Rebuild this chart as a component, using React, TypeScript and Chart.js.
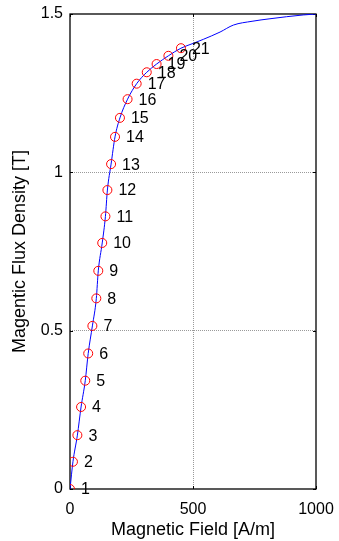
import { useEffect, useRef } from "react";
import { Chart, registerables } from "chart.js";

Chart.register(...registerables);

// Measured points on the B-H curve (field strength H in A/m, flux density B in T)
const fieldH = [0, 12, 30, 45, 62, 74, 91, 107, 115, 131, 144, 152, 167, 183, 203, 234, 271, 312, 352, 400, 451];
const fluxB = [0, 0.086, 0.17, 0.259, 0.342, 0.428, 0.515, 0.602, 0.689, 0.777, 0.861, 0.944, 1.026, 1.112, 1.172, 1.231, 1.28, 1.316, 1.342, 1.368, 1.392];
const pointLabels = ["1", "2", "3", "4", "5", "6", "7", "8", "9", "10", "11", "12", "13", "14", "15", "16", "17", "18", "19", "20", "21"];

// Saturation part of the curve beyond the last measured point
const tailH = [500, 542, 610, 664, 740, 813, 948, 1000];
const tailB = [1.407, 1.42, 1.443, 1.465, 1.477, 1.485, 1.497, 1.5];

const xTicks = [0, 500, 1000];
const yTicks = [0, 0.5, 1, 1.5];

const FONT = "'Liberation Sans', Arial, Helvetica, sans-serif";

// Box frame, inward tick marks and point numbers
const axesBox = {
  id: "axesBox",
  beforeDatasetsDraw(chart: any) {
    const { ctx, chartArea, scales } = chart;
    const { left, right, top, bottom } = chartArea;
    const x = scales.x;
    const y = scales.y;
    ctx.save();
    ctx.strokeStyle = "#000";
    ctx.lineWidth = 1.3;
    ctx.strokeRect(left, top, right - left, bottom - top);
    ctx.lineWidth = 1;
    ctx.beginPath();
    const tl = 3;
    xTicks.forEach((v) => {
      const px = Math.round(x.getPixelForValue(v)) + 0.5;
      ctx.moveTo(px, bottom);
      ctx.lineTo(px, bottom - tl);
      ctx.moveTo(px, top);
      ctx.lineTo(px, top + tl);
    });
    yTicks.forEach((v) => {
      const py = Math.round(y.getPixelForValue(v)) + 0.5;
      ctx.moveTo(left, py);
      ctx.lineTo(left + tl, py);
      ctx.moveTo(right, py);
      ctx.lineTo(right - tl, py);
    });
    ctx.stroke();
    ctx.restore();
  },
  afterDatasetsDraw(chart: any) {
    const { ctx, scales } = chart;
    const x = scales.x;
    const y = scales.y;
    ctx.save();
    ctx.fillStyle = "#000";
    ctx.font = `16px ${FONT}`;
    ctx.textAlign = "left";
    ctx.textBaseline = "middle";
    pointLabels.forEach((lbl, i) => {
      const px = x.getPixelForValue(fieldH[i]);
      const py = y.getPixelForValue(fluxB[i]);
      ctx.fillText(lbl, px + 11, py + 1);
    });
    ctx.restore();
  },
};

export default function App() {
  const canvasRef = useRef<HTMLCanvasElement | null>(null);

  useEffect(() => {
    const canvas = canvasRef.current;
    if (!canvas) return;

    const curve = fieldH
      .map((h, i) => ({ x: h, y: fluxB[i] }))
      .concat(tailH.map((h, i) => ({ x: h, y: tailB[i] })));
    const markers = fieldH.map((h, i) => ({ x: h, y: fluxB[i] }));

    const gridColor = (c: any) => {
      const v = c.tick ? c.tick.value : null;
      const scale = c.scale;
      if (v === scale.min || v === scale.max) return "rgba(0,0,0,0)";
      return "#9a9a9a";
    };

    const chart = new Chart(canvas, {
      type: "scatter",
      data: {
        datasets: [
          {
            label: "B-H curve",
            data: curve,
            showLine: true,
            borderColor: "#0000ff",
            borderWidth: 1,
            pointRadius: 0,
            cubicInterpolationMode: "monotone",
            order: 2,
          },
          {
            label: "points",
            data: markers,
            showLine: false,
            pointStyle: "circle",
            pointRadius: 4.5,
            pointBorderColor: "#ff0000",
            pointBackgroundColor: "rgba(0,0,0,0)",
            pointBorderWidth: 1,
            order: 1,
          },
        ],
      },
      options: {
        responsive: false,
        animation: false,
        events: [],
        layout: { padding: { top: 14, right: 23, bottom: 0, left: 0 } },
        plugins: {
          legend: { display: false },
          tooltip: { enabled: false },
        },
        scales: {
          x: {
            type: "linear",
            min: 0,
            max: 1000,
            afterBuildTicks: (s: any) => {
              s.ticks = xTicks.map((v) => ({ value: v }));
            },
            afterFit: (s: any) => {
              s.height = 52;
              s.paddingLeft = 0;
              s.paddingRight = 0;
            },
            ticks: {
              callback: (v: any) => String(v),
              color: "#000",
              font: { family: FONT, size: 16 },
              padding: 11,
              maxRotation: 0,
              autoSkip: false,
            },
            grid: { color: gridColor, drawTicks: false, lineWidth: 1 },
            border: { display: false, dash: [1, 1] },
            title: {
              display: true,
              text: "Magnetic Field [A/m]",
              color: "#000",
              font: { family: FONT, size: 18 },
              padding: { top: 0, bottom: 0 },
            },
          },
          y: {
            type: "linear",
            min: 0,
            max: 1.5,
            afterBuildTicks: (s: any) => {
              s.ticks = yTicks.map((v) => ({ value: v }));
            },
            afterFit: (s: any) => {
              s.width = 70;
              s.paddingTop = 0;
              s.paddingBottom = 0;
            },
            ticks: {
              callback: (v: any) => String(v),
              color: "#000",
              font: { family: FONT, size: 16 },
              padding: 7,
              autoSkip: false,
            },
            grid: { color: gridColor, drawTicks: false, lineWidth: 1 },
            border: { display: false, dash: [1, 1] },
            title: {
              display: true,
              text: "Magentic Flux Density [T]",
              color: "#000",
              font: { family: FONT, size: 18 },
              padding: { top: 9, bottom: 0 },
            },
          },
        },
      },
      plugins: [axesBox],
    } as any);

    return () => chart.destroy();
  }, []);

  return (
    <div style={{ position: "fixed", left: 0, top: 0, width: 339, height: 541, background: "#fff" }}>
      <canvas ref={canvasRef} width={339} height={541} />
    </div>
  );
}
